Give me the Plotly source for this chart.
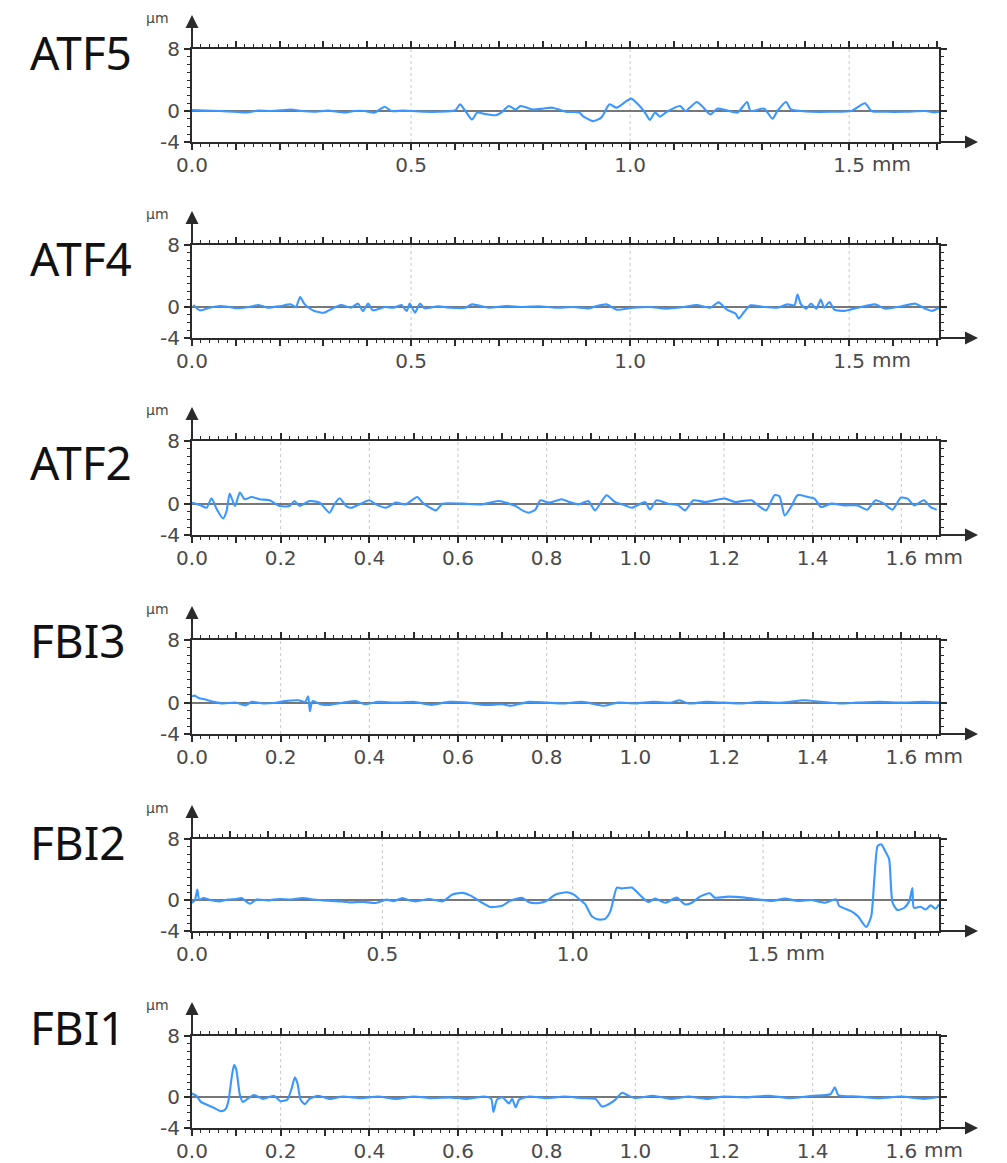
import plotly.graph_objects as go

# Surface roughness profiles (height in µm vs. scan length in mm)
labels = ["ATF5", "ATF4", "ATF2", "FBI3", "FBI2", "FBI1"]

atf5 = [
    (0.000, 0.13), (0.030, 0.05), (0.064, 0.00), (0.095, -0.10), (0.126, -0.20),
    (0.150, 0.05), (0.179, 0.00), (0.205, 0.10), (0.225, 0.20), (0.250, 0.00),
    (0.279, -0.10), (0.310, 0.05), (0.348, -0.20), (0.370, 0.00), (0.394, 0.00),
    (0.417, -0.20), (0.440, 0.55), (0.455, 0.00), (0.480, 0.05), (0.501, 0.00),
    (0.530, -0.10), (0.562, -0.10), (0.601, 0.10), (0.612, 0.86), (0.624, 0.00),
    (0.639, -1.10), (0.651, -0.20), (0.670, -0.40), (0.693, -0.55), (0.708, -0.10),
    (0.723, 0.65), (0.739, 0.20), (0.750, 0.65), (0.777, 0.20), (0.800, 0.30),
    (0.823, 0.43), (0.853, -0.10), (0.884, -0.20), (0.892, -0.65), (0.915, -1.30),
    (0.934, -0.86), (0.953, 0.86), (0.969, 0.43), (0.992, 1.30), (1.003, 1.60),
    (1.018, 0.86), (1.034, -0.20), (1.045, -1.16), (1.057, -0.20), (1.068, -0.73),
    (1.083, -0.13), (1.114, 0.65), (1.126, 0.00), (1.152, 1.16), (1.164, 0.65),
    (1.183, -0.43), (1.199, 0.30), (1.220, 0.10), (1.245, -0.20), (1.267, 1.16),
    (1.275, 0.00), (1.306, 0.30), (1.325, -1.00), (1.336, 0.00), (1.356, 1.16),
    (1.367, 0.20), (1.390, 0.00), (1.413, -0.10), (1.459, -0.10), (1.505, 0.00),
    (1.536, 1.00), (1.551, 0.00), (1.582, -0.10), (1.628, -0.10), (1.674, 0.00),
    (1.695, -0.20), (1.705, -0.10),
]

atf4 = [
    (0.003, 0.26), (0.018, -0.43), (0.040, -0.10), (0.064, 0.13), (0.085, 0.00),
    (0.103, -0.17), (0.130, 0.00), (0.152, 0.26), (0.172, -0.09), (0.202, 0.13),
    (0.225, 0.34), (0.237, 0.00), (0.247, 1.30), (0.256, 0.43), (0.264, 0.00),
    (0.279, -0.52), (0.302, -0.73), (0.317, -0.30), (0.340, 0.26), (0.363, -0.09),
    (0.379, 0.43), (0.390, -0.52), (0.402, 0.43), (0.413, -0.43), (0.440, 0.00),
    (0.460, -0.10), (0.478, 0.26), (0.490, -0.52), (0.497, 0.43), (0.509, -0.73),
    (0.520, 0.43), (0.531, -0.17), (0.562, 0.09), (0.590, -0.10), (0.624, -0.09),
    (0.639, 0.34), (0.677, -0.09), (0.716, 0.13), (0.754, 0.00), (0.792, 0.09),
    (0.831, -0.09), (0.870, 0.00), (0.907, -0.17), (0.922, 0.09), (0.946, 0.34),
    (0.969, -0.34), (1.007, -0.09), (1.045, 0.00), (1.083, -0.22), (1.122, 0.00),
    (1.152, 0.26), (1.183, -0.09), (1.202, 0.60), (1.221, -0.34), (1.241, -0.86),
    (1.248, -1.50), (1.260, -0.65), (1.275, 0.22), (1.306, 0.00), (1.336, -0.09),
    (1.359, 0.34), (1.375, 0.22), (1.382, 1.60), (1.390, 0.34), (1.402, -0.22),
    (1.413, 0.43), (1.425, -0.22), (1.435, 0.95), (1.443, -0.09), (1.455, 0.65),
    (1.466, -0.34), (1.489, -0.50), (1.520, -0.09), (1.559, 0.34), (1.582, -0.22),
    (1.620, 0.09), (1.651, 0.43), (1.674, -0.22), (1.689, -0.50), (1.705, -0.09),
]

atf2 = [
    (0.000, 0.13), (0.018, -0.17), (0.033, -0.52), (0.044, 0.69), (0.056, -0.73),
    (0.070, -1.89), (0.078, -0.95), (0.085, 1.29), (0.097, -0.30), (0.108, 1.42),
    (0.119, 0.56), (0.134, 0.86), (0.153, 0.56), (0.175, 0.43), (0.198, -0.30),
    (0.220, -0.30), (0.231, 0.34), (0.243, -0.30), (0.265, 0.34), (0.288, 0.13),
    (0.310, -1.16), (0.321, -0.09), (0.333, 0.69), (0.348, -0.30), (0.359, -0.52),
    (0.378, -0.09), (0.400, 0.43), (0.415, -0.09), (0.437, -0.52), (0.460, 0.13),
    (0.482, -0.09), (0.508, 0.86), (0.520, 0.13), (0.550, -0.86), (0.565, 0.00),
    (0.610, 0.00), (0.655, -0.09), (0.692, 0.34), (0.730, -0.30), (0.745, -0.86),
    (0.760, -1.16), (0.775, -0.73), (0.786, 0.43), (0.805, 0.13), (0.834, 0.56),
    (0.849, 0.26), (0.872, -0.09), (0.894, 0.34), (0.909, -0.86), (0.935, 1.08),
    (0.954, 0.22), (0.977, -0.22), (0.992, -0.52), (1.022, 0.22), (1.033, -0.77),
    (1.048, 0.43), (1.074, 0.00), (1.097, -0.22), (1.112, -0.86), (1.131, 0.43),
    (1.157, 0.22), (1.202, 0.65), (1.224, 0.22), (1.262, 0.43), (1.277, -0.22),
    (1.295, -0.86), (1.314, 1.08), (1.325, 0.95), (1.337, -1.51), (1.351, -0.43),
    (1.366, 1.08), (1.389, 0.86), (1.404, 0.65), (1.419, -0.43), (1.442, 0.00),
    (1.472, -0.22), (1.501, -0.22), (1.523, -0.77), (1.542, 0.43), (1.561, 0.00),
    (1.580, -0.77), (1.599, 0.77), (1.614, 0.65), (1.629, -0.22), (1.651, 0.43),
    (1.666, -0.43), (1.680, -0.77),
]

fbi3 = [
    (0.000, 0.80), (0.006, 0.90), (0.015, 0.60), (0.030, 0.40), (0.050, 0.10),
    (0.070, -0.10), (0.100, 0.00), (0.120, -0.35), (0.135, 0.10), (0.160, -0.10),
    (0.190, 0.00), (0.210, 0.20), (0.240, 0.30), (0.255, 0.10), (0.262, 0.80),
    (0.266, -1.10), (0.272, 0.20), (0.290, -0.20), (0.310, -0.30), (0.340, 0.00),
    (0.370, 0.20), (0.390, -0.20), (0.420, 0.10), (0.460, 0.00), (0.500, 0.10),
    (0.540, -0.30), (0.580, 0.10), (0.620, 0.00), (0.660, -0.30), (0.700, -0.20),
    (0.720, -0.40), (0.760, 0.10), (0.800, 0.00), (0.840, -0.10), (0.880, 0.10),
    (0.930, -0.40), (0.960, 0.00), (1.000, -0.10), (1.040, 0.10), (1.080, 0.00),
    (1.100, 0.30), (1.120, -0.10), (1.160, 0.10), (1.200, 0.00), (1.240, -0.10),
    (1.280, 0.10), (1.330, 0.00), (1.380, 0.30), (1.420, 0.10), (1.460, -0.10),
    (1.500, 0.00), (1.550, 0.10), (1.600, 0.00), (1.650, 0.10), (1.685, 0.00),
]

fbi2 = [
    (0.000, -0.35), (0.008, 0.09), (0.014, 1.41), (0.019, 0.09), (0.030, 0.31),
    (0.050, 0.00), (0.073, -0.13), (0.095, 0.10), (0.117, 0.18), (0.130, 0.31),
    (0.152, -0.44), (0.169, 0.09), (0.200, 0.00), (0.230, 0.18), (0.260, 0.10),
    (0.291, 0.31), (0.320, 0.10), (0.344, 0.00), (0.380, -0.10), (0.413, -0.26),
    (0.450, -0.20), (0.483, -0.35), (0.510, 0.09), (0.530, -0.10), (0.553, 0.31),
    (0.570, 0.00), (0.588, -0.13), (0.623, 0.18), (0.658, -0.13), (0.684, 0.75),
    (0.710, 0.97), (0.732, 0.62), (0.763, -0.35), (0.784, -0.88), (0.815, -0.70),
    (0.833, -0.13), (0.850, 0.18), (0.868, 0.31), (0.885, -0.26), (0.911, -0.35),
    (0.929, -0.13), (0.955, 0.75), (0.985, 1.05), (1.003, 0.75), (1.016, 0.20),
    (1.033, -0.53), (1.050, -2.07), (1.068, -2.51), (1.085, -2.42), (1.099, -1.41),
    (1.116, 1.67), (1.129, 1.54), (1.155, 1.67), (1.177, 0.66), (1.199, -0.22),
    (1.216, 0.22), (1.243, -0.31), (1.273, 0.35), (1.295, -0.53), (1.313, -0.31),
    (1.334, 0.48), (1.360, 0.92), (1.373, 0.35), (1.408, 0.48), (1.452, 0.35),
    (1.487, 0.13), (1.522, -0.09), (1.557, 0.22), (1.592, -0.09), (1.626, 0.04),
    (1.662, -0.31), (1.692, 0.13), (1.700, -0.75), (1.731, -1.41), (1.749, -2.07),
    (1.771, -3.47), (1.784, -2.07), (1.792, 2.70), (1.801, 7.10), (1.810, 7.30),
    (1.823, 6.20), (1.831, 5.40), (1.840, -0.31), (1.853, -1.27), (1.871, -0.97),
    (1.884, -0.09), (1.892, 1.60), (1.896, -0.97), (1.914, -0.84), (1.927, -1.19),
    (1.940, -0.66), (1.953, -1.10), (1.962, -0.53),
]

fbi1 = [
    (0.000, 0.50), (0.010, 0.20), (0.020, -0.60), (0.035, -1.00), (0.050, -1.40),
    (0.065, -1.80), (0.075, -1.60), (0.082, -0.50), (0.090, 2.80), (0.095, 4.20),
    (0.100, 3.60), (0.108, 0.30), (0.115, -0.60), (0.125, -0.20), (0.140, 0.30),
    (0.160, -0.20), (0.185, 0.20), (0.200, -0.50), (0.215, -0.30), (0.225, 1.20),
    (0.232, 2.60), (0.238, 1.80), (0.245, -0.30), (0.255, -0.90), (0.265, -0.20),
    (0.285, 0.20), (0.310, -0.20), (0.340, 0.10), (0.380, -0.10), (0.420, 0.10),
    (0.460, -0.20), (0.500, 0.10), (0.540, -0.10), (0.580, 0.00), (0.620, -0.20),
    (0.660, 0.10), (0.675, -0.20), (0.680, -1.90), (0.688, -0.30), (0.700, 0.00),
    (0.715, -0.80), (0.722, -0.20), (0.730, -1.30), (0.738, -0.30), (0.760, 0.10),
    (0.800, -0.10), (0.840, 0.10), (0.880, -0.10), (0.910, -0.20), (0.925, -1.20),
    (0.940, -0.90), (0.955, -0.30), (0.970, 0.60), (0.985, 0.20), (1.000, -0.10),
    (1.040, 0.20), (1.080, -0.20), (1.120, 0.10), (1.160, -0.20), (1.200, 0.10),
    (1.250, 0.00), (1.300, 0.20), (1.350, -0.10), (1.400, 0.20), (1.440, 0.40),
    (1.450, 1.30), (1.458, 0.30), (1.500, 0.10), (1.550, -0.10), (1.600, 0.10),
    (1.650, -0.20), (1.680, 0.00),
]

profiles = [atf5, atf4, atf2, fbi3, fbi2, fbi1]

# scan length covered by each panel (mm)
x_max = [1.705, 1.705, 1.685, 1.685, 1.962, 1.685]
# labelled x ticks per panel; the last one carries the unit
x_labels = [
    [0.0, 0.5, 1.0, 1.5],
    [0.0, 0.5, 1.0, 1.5],
    [0.0, 0.2, 0.4, 0.6, 0.8, 1.0, 1.2, 1.4, 1.6],
    [0.0, 0.2, 0.4, 0.6, 0.8, 1.0, 1.2, 1.4, 1.6],
    [0.0, 0.5, 1.0, 1.5],
    [0.0, 0.2, 0.4, 0.6, 0.8, 1.0, 1.2, 1.4, 1.6],
]
y_ticks = [-4, 0, 8]
y_range = [-4, 8]

# ---- layout geometry (pixels) ----
W, H = 1007, 1163
left_px, right_px = 192, 939
top_px = [49, 245, 441, 640, 839, 1036]       # y = 8 line
bottom_px = [142, 338, 535, 734, 931, 1128]   # y = -4 line
label_cy = [52, 258, 462, 640, 842, 1027]

def py(p):
    return 1 - p / H

def px(p):
    return p / W

AX = "#2b2b2b"
TXT = "#4a4a4a"
LINE = "#3b97ff"
tick_font = dict(family="DejaVu Sans, Verdana, sans-serif", size=20, color=TXT)

fig = go.Figure()
annotations = []
shapes = []

for i, (name, prof) in enumerate(zip(labels, profiles)):
    n = i + 1
    xa = "x" if n == 1 else f"x{n}"
    ya = "y" if n == 1 else f"y{n}"
    xs = [p[0] for p in prof]
    ys = [p[1] for p in prof]
    fig.add_trace(go.Scatter(
        x=xs, y=ys, mode="lines", xaxis=xa, yaxis=ya,
        line=dict(color=LINE, width=2.1, shape="spline", smoothing=0.6),
        showlegend=False, hoverinfo="skip",
    ))

    # major ticks every 0.1 mm, text only on the labelled ones
    nmaj = int(round(x_max[i] * 10 + 1e-6))
    tv = [round(k * 0.1, 1) for k in range(nmaj + 1) if k * 0.1 <= x_max[i] + 1e-9]
    labset = {round(v, 1) for v in x_labels[i]}
    tt = [f"{v:.1f}" if round(v, 1) in labset else "" for v in tv]

    xkey = "xaxis" if n == 1 else f"xaxis{n}"
    ykey = "yaxis" if n == 1 else f"yaxis{n}"
    fig.layout[xkey] = dict(
        domain=[px(left_px), px(right_px)], range=[0, x_max[i]], anchor=ya,
        automargin=False,
        showline=True, linecolor=AX, linewidth=2, mirror="ticks",
        ticks="outside", ticklen=6, tickwidth=1.5, tickcolor=AX,
        tickmode="array", tickvals=tv, ticktext=tt, tickfont=tick_font,
        ticklabelstandoff=-2,
        showgrid=False, zeroline=False, fixedrange=True,
        minor=dict(ticks="outside", dtick=0.02, tick0=0, ticklen=3,
                   tickwidth=1, tickcolor=AX, showgrid=False),
    )
    fig.layout[ykey] = dict(
        domain=[py(bottom_px[i]), py(top_px[i])], range=y_range, anchor=xa,
        automargin=False,
        showline=True, linecolor=AX, linewidth=2, mirror="ticks",
        ticks="outside", ticklen=6, tickwidth=1.5, tickcolor=AX,
        tickmode="array", tickvals=y_ticks, ticktext=[str(v) for v in y_ticks],
        tickfont=tick_font, showgrid=False,
        zeroline=True, zerolinecolor="#777777", zerolinewidth=2, fixedrange=True,
        minor=dict(ticks="outside", dtick=1, tick0=0, ticklen=3,
                   tickwidth=1, tickcolor=AX, showgrid=False),
    )

    # dotted grid at labelled positions
    for v in x_labels[i][1:]:
        shapes.append(dict(type="line", xref=xa, yref=ya, x0=v, x1=v,
                           y0=y_range[0], y1=y_range[1], layer="below",
                           line=dict(color="#c8c8c8", width=1, dash="dot")))

    # panel name
    annotations.append(dict(
        text=name, xref="paper", yref="paper", x=px(28), y=py(label_cy[i]),
        xanchor="left", yanchor="middle", showarrow=False,
        font=dict(family="Liberation Sans Narrow, Noto Sans, sans-serif",
                  size=46, color="#111"),
    ))
    # unit on y axis
    annotations.append(dict(
        text="µm", xref="paper", yref="paper", x=px(157), y=py(top_px[i] - 31),
        xanchor="center", yanchor="middle", showarrow=False,
        font=dict(family="DejaVu Sans, sans-serif", size=14, color=TXT),
    ))
    # unit on x axis next to the last label
    annotations.append(dict(
        text="mm", xref=xa, yref="paper", x=x_labels[i][-1],
        y=py(bottom_px[i] + 22), xshift=21, xanchor="left", yanchor="middle",
        showarrow=False, font=tick_font,
    ))
    # axis arrows
    annotations.append(dict(
        text="", xref="paper", yref="paper", x=px(left_px), y=py(top_px[i] - 34),
        ax=0, ay=34, showarrow=True, arrowhead=2, arrowsize=1.3,
        arrowwidth=2, arrowcolor=AX, standoff=0,
    ))
    annotations.append(dict(
        text="", xref="paper", yref="paper", x=px(978), y=py(bottom_px[i]),
        ax=-39, ay=0, showarrow=True, arrowhead=2, arrowsize=1.3,
        arrowwidth=2, arrowcolor=AX, standoff=0,
    ))

fig.update_layout(
    width=W, height=H, margin=dict(l=0, r=0, t=0, b=0, autoexpand=False),
    paper_bgcolor="white", plot_bgcolor="white",
    annotations=annotations, shapes=shapes, showlegend=False,
)

fig.write_html("out.html", config={"displayModeBar": False})
